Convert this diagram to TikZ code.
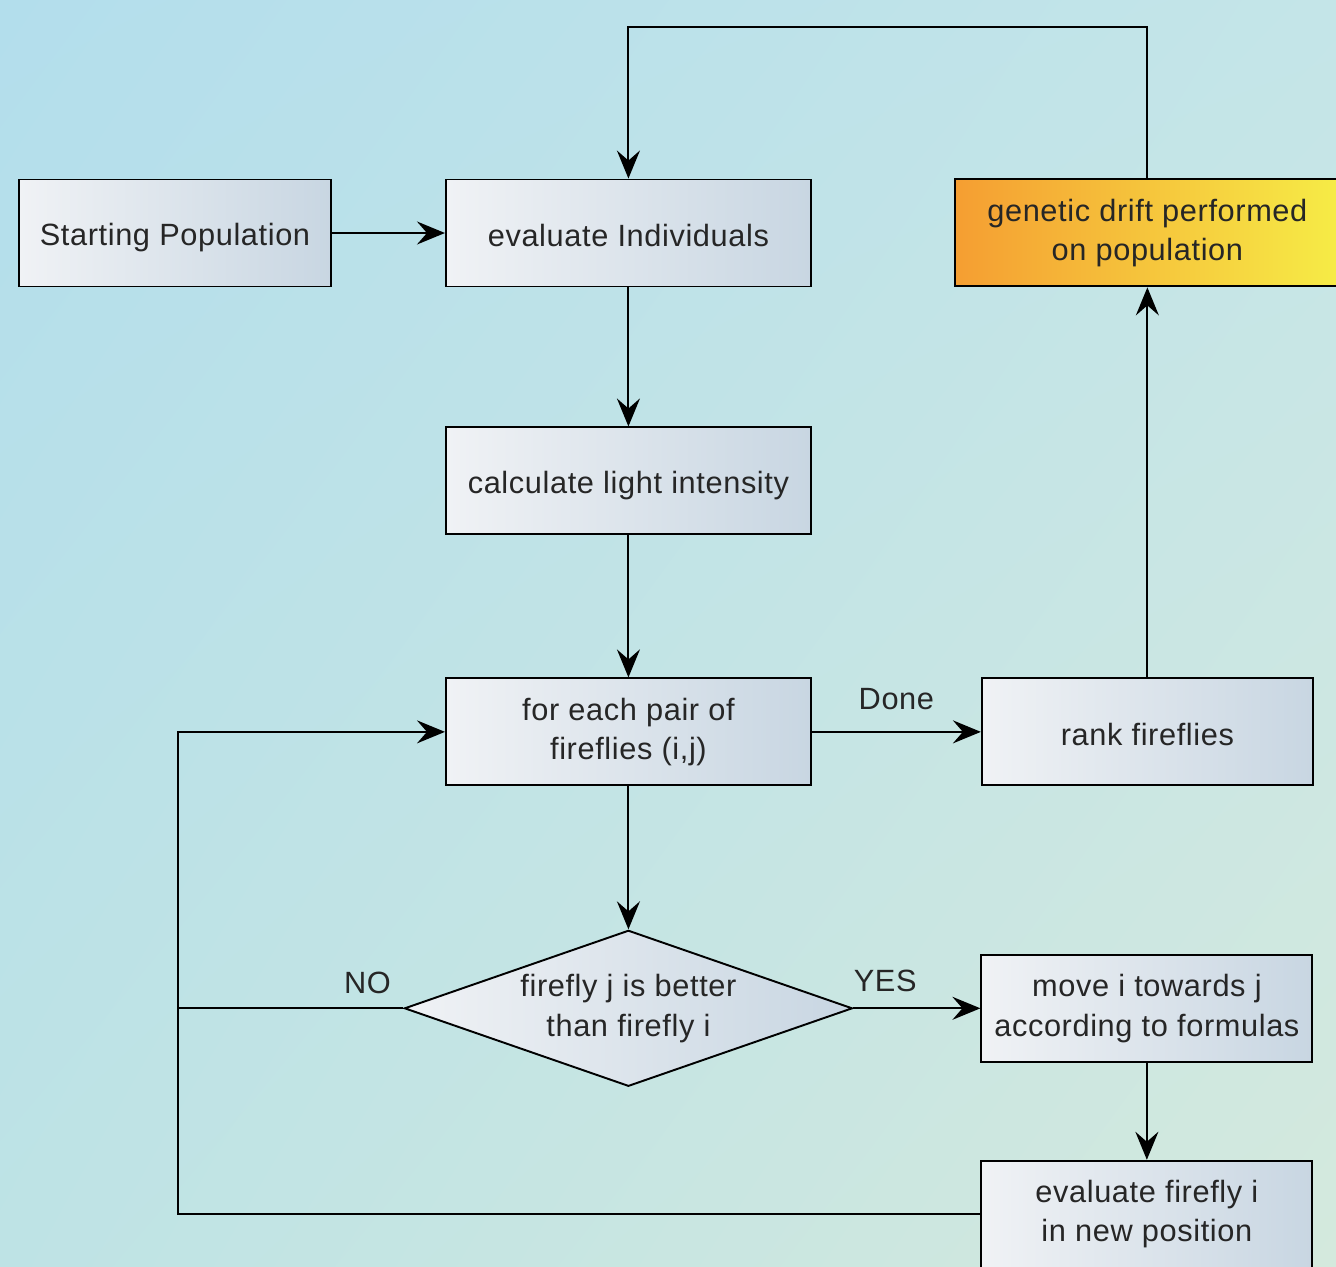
\documentclass[tikz,border=0pt]{standalone}
\usepackage{fontspec}
\setmainfont{Liberation Sans}[LetterSpace=2.0]
\usepackage{xcolor}
\usepackage{tikz}
\usetikzlibrary{shapes.geometric, arrows.meta, positioning, shadings}

\definecolor{bgtl}{RGB}{179,222,236}
\definecolor{bgtr}{RGB}{196,229,232}
\definecolor{bgbl}{RGB}{190,227,229}
\definecolor{bgbr}{RGB}{212,233,221}
\definecolor{boxleft}{RGB}{240,242,245}
\definecolor{boxright}{RGB}{200,214,226}
\definecolor{driftleft}{RGB}{245,158,50}
\definecolor{driftmid}{RGB}{250,212,30}
\definecolor{driftright}{RGB}{246,236,70}

\newcommand{\topstrut}{\rule{0pt}{18pt}}
\newcommand{\botstrut}{\rule[-2.2pt]{0pt}{2.2pt}}

\begin{document}
\begin{tikzpicture}[
    node distance=2.8cm,
    procbox/.style={rectangle, draw, line width=1.1pt, minimum width=7.3cm, minimum height=2.14cm, align=center, left color=boxleft, right color=boxright, text=black!85, font=\fontsize{17.5}{22.5}\selectfont, execute at begin node=\topstrut, execute at end node=\botstrut},
    decision/.style={diamond, aspect=2.87, draw, line width=1.1pt, minimum width=8.96cm, minimum height=3.12cm, inner sep=0pt, align=center, left color=boxleft, right color=boxright, text=black!85, font=\fontsize{17.5}{22.5}\selectfont, execute at begin node=\topstrut, execute at end node=\botstrut},
    driftbox/.style={procbox, minimum width=7.68cm, left color=driftleft, middle color=driftmid, right color=driftright},
    lbl/.style={text=black!85, font=\fontsize{17.5}{22.5}\selectfont},
    arrow/.style={-{Stealth[length=0.56cm, width=0.46cm, inset=0.2cm]}, line width=1.1pt},
    line/.style={line width=1.1pt}
]

% Background
\useasboundingbox (0,0) rectangle (26.72,-25.34);
\shade[upper left=bgtl, upper right=bgtr, lower left=bgbl, lower right=bgbr] (0,0) rectangle (26.72,-25.34);

% Top row
\node[procbox, minimum width=6.24cm] (start) at (3.5,-4.66) {Starting Population};
\node[procbox, right=2.26cm of start] (evalind) {evaluate Individuals};

% Main column
\node[procbox, below=2.78cm of evalind] (calc) {calculate light intensity};
\node[procbox, below=2.84cm of calc] (pair) {for each pair of\\fireflies (i,j)};
\node[decision, below=2.86cm of pair] (better) {firefly j is better\\than firefly i};

% Right column
\node[procbox, minimum width=6.62cm, right=3.38cm of pair] (rank) {rank fireflies};
\node[driftbox, above=7.80cm of rank] (drift) {genetic drift performed\\on population};
\node[procbox, minimum width=6.62cm, right=2.54cm of better] (move) {move i towards j\\according to formulas};
\node[procbox, minimum width=6.62cm, below=1.94cm of move] (evalff) {evaluate firefly i\\in new position};

% Arrows
\draw[arrow] (start) -- (evalind);
\draw[arrow] (evalind) -- (calc);
\draw[arrow] (calc) -- (pair);
\draw[arrow] (pair) -- (better);
\draw[arrow] (pair) -- (rank) node[lbl, midway, above=3mm] {Done};
\draw[arrow] (better) -- (move) node[lbl, pos=0.25, above=2mm] {YES};
\draw[arrow] (move) -- (evalff);
\draw[arrow] (rank) -- (drift);

% Loops
\draw[arrow] (drift.north) -- ++(0,3.03) -| (evalind.north);
\draw[arrow] (evalff.west) -- ++(-16.04,0) |- (pair.west);
\draw[line] (better.west) -- ++(-4.49,0) node[lbl, pos=0.16, above=1.5mm] {NO};

\end{tikzpicture}
\end{document}
